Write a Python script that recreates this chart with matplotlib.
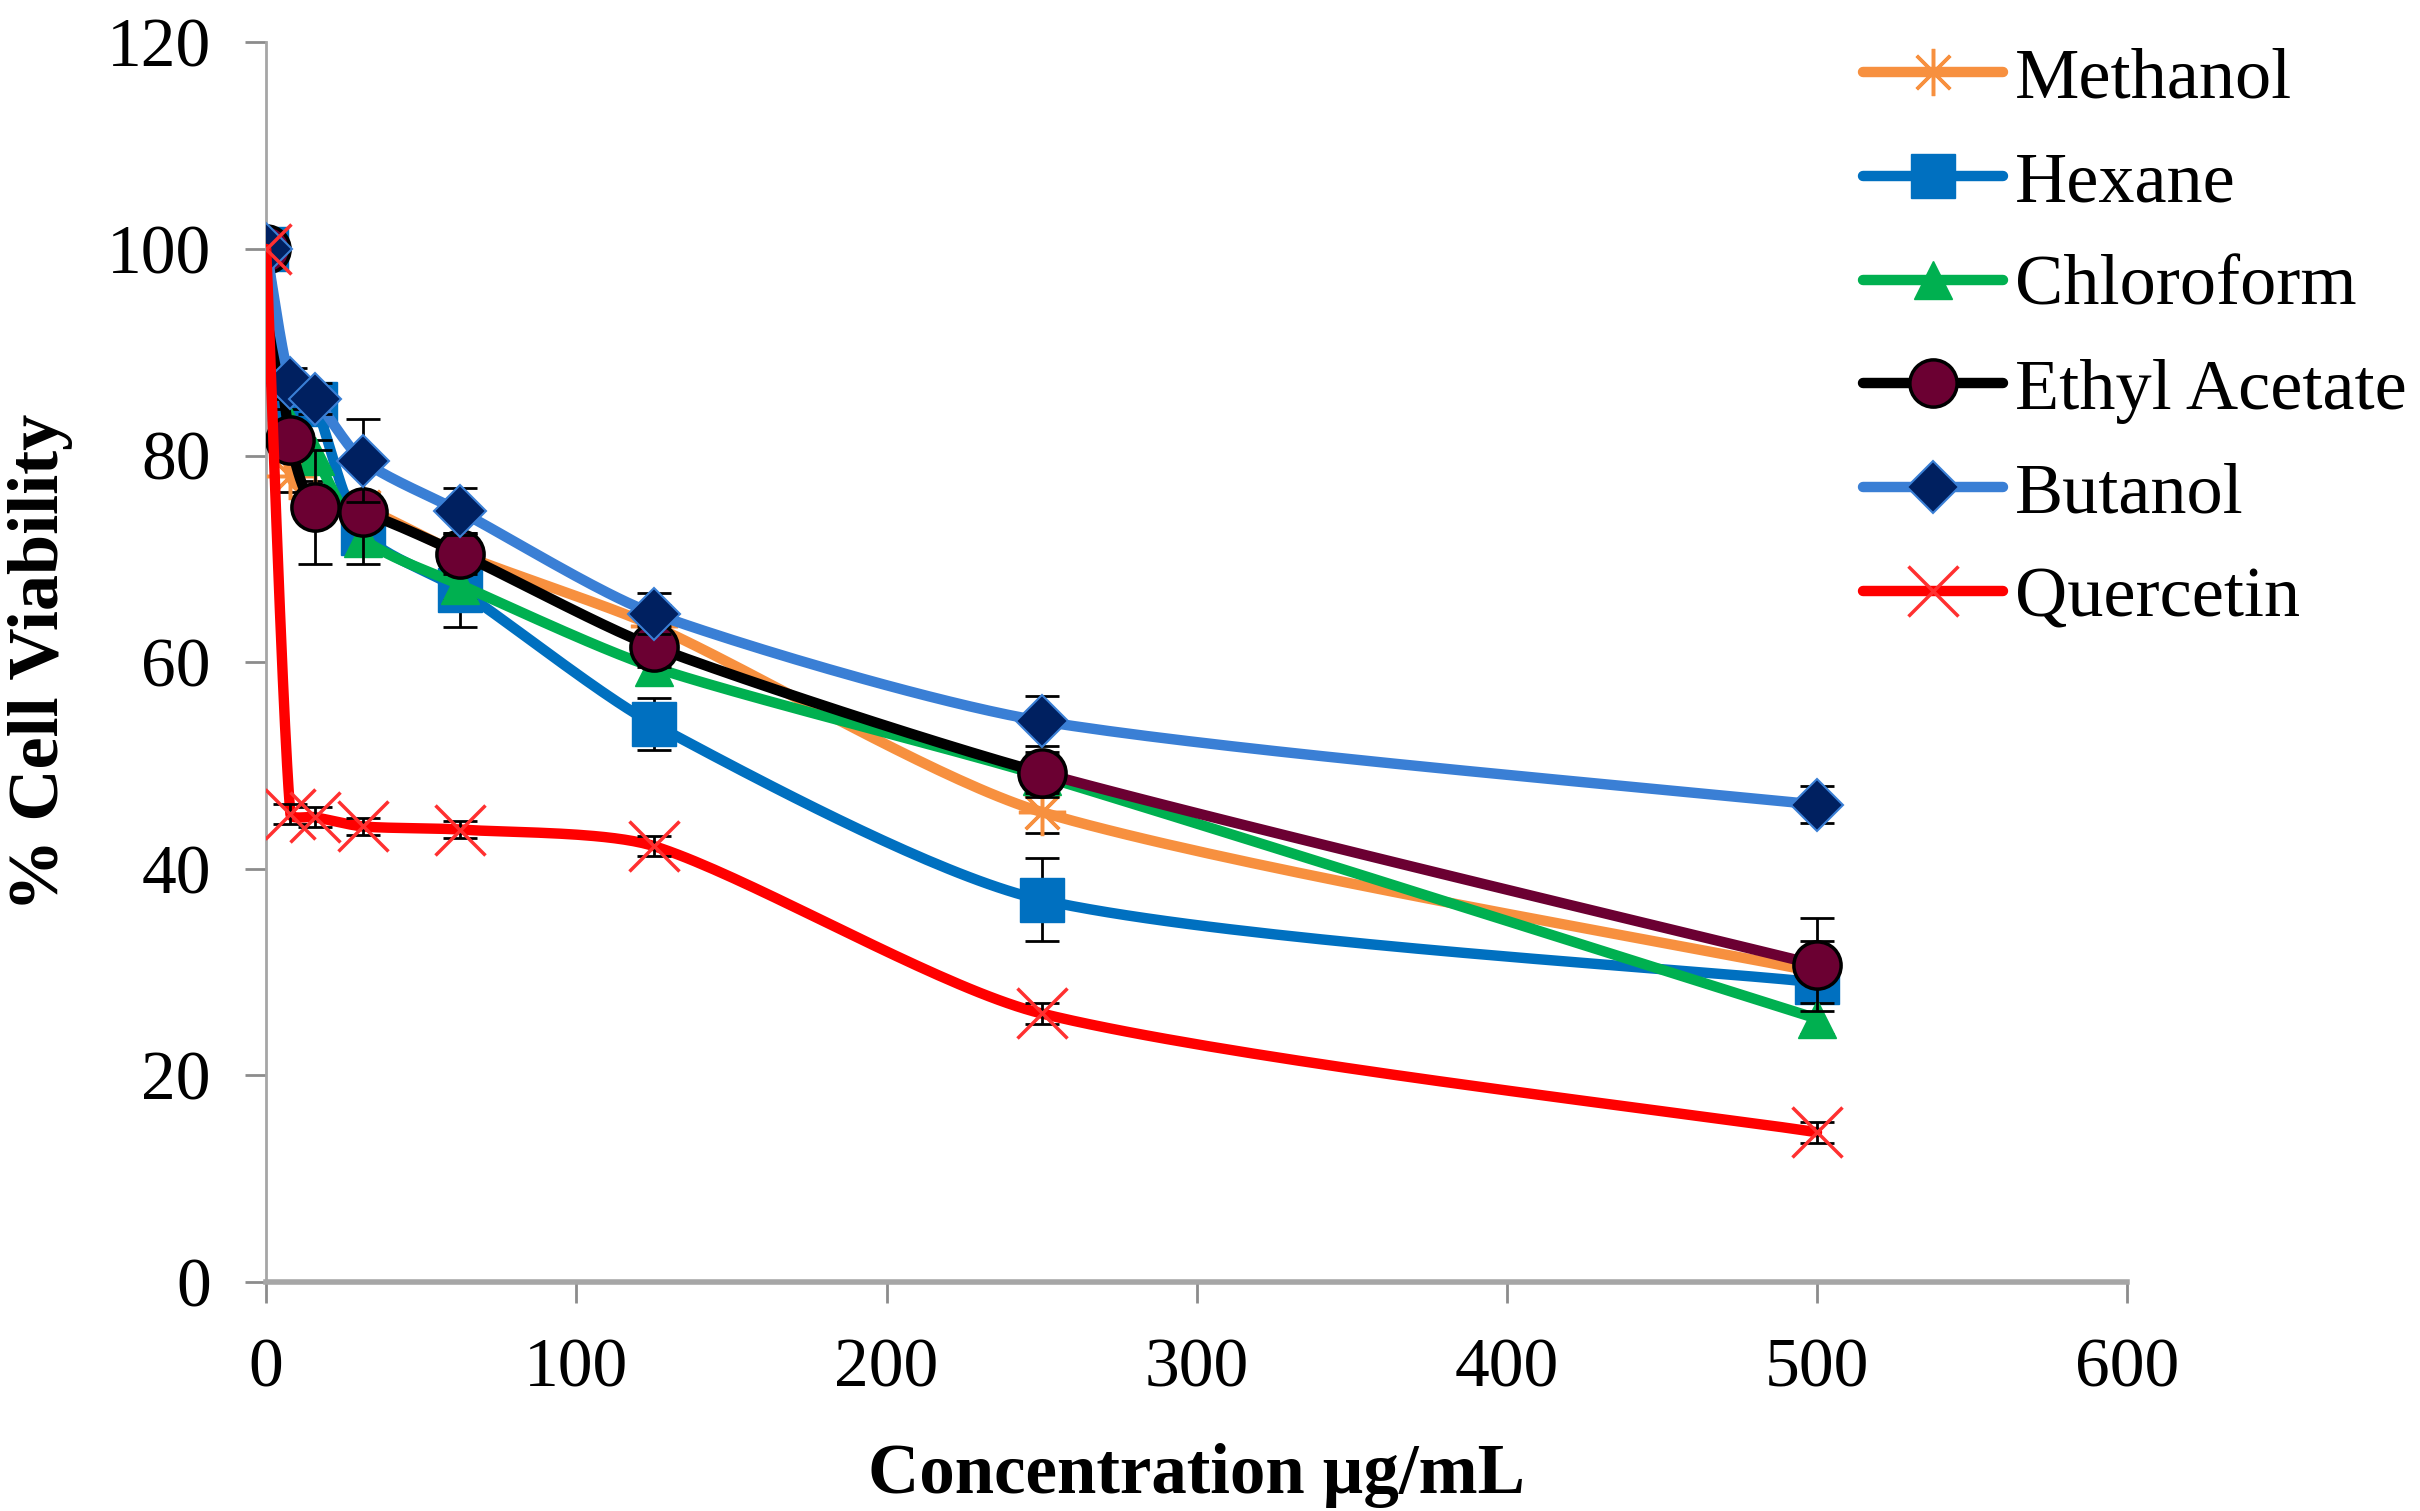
import numpy as np
import matplotlib
matplotlib.use('Agg')
import matplotlib.pyplot as plt

plt.rcParams['font.family'] = ['Liberation Serif', 'DejaVu Serif']

# data
conc = [0, 7.8, 15.6, 31.25, 62.5, 125, 250, 500]

methanol = [100, 78.0, 76.0, 75.0, 70.5, 63.5, 45.5, 30.0]
hexane = [100, 85.5, 85.0, 72.5, 67.0, 54.0, 37.0, 29.0]
chloroform = [100, 83.0, 80.0, 72.0, 67.5, 59.5, 49.0, 25.5]
ethyl = [100, 81.5, 75.0, 74.5, 70.5, 61.5, 49.3, 30.7]
butanol = [100, 87.0, 85.5, 79.5, 74.6, 64.7, 54.3, 46.2]
quercetin = [100, 45.3, 45.0, 44.1, 43.8, 42.2, 26.0, 14.5]

methanol_err = [0, 1.5, 1.5, 1.5, 2, 2, 2, 3]
hexane_err = [0, 2, 2, 1.5, 3.6, 2.5, 4, 2]
chloroform_err = [0, 1.5, 1.5, 1.5, 1.5, 1.5, 2, 1.5]
ethyl_err = [0, 1.5, 5.5, 5, 2, 2, 2, 4.5]
butanol_err = [0, 1.5, 1.5, 4, 2.3, 2, 2.4, 1.8]
quercetin_err = [0, 1, 1, 0.8, 0.8, 1, 1, 1]

labels = ['Methanol', 'Hexane', 'Chloroform', 'Ethyl Acetate', 'Butanol', 'Quercetin']

fig = plt.figure(figsize=(24.2, 15.11), dpi=100)
ax = fig.add_axes([0.110, 0.1515, 0.769, 0.8205])
ax.set_xlim(0, 600)
ax.set_ylim(0, 120)

W = 0.769 * 2420
H = 0.8205 * 1511


def smooth(x, y, n=40):
    # excel-like smoothed line, bezier with 1/6 tangents in screen space
    px = np.asarray(x, float) / 600 * W
    py = np.asarray(y, float) / 120 * H
    P = np.column_stack([px, py])
    out = [P[0]]
    for i in range(len(P) - 1):
        p0 = P[i - 1] if i > 0 else P[i]
        p1 = P[i]
        p2 = P[i + 1]
        p3 = P[i + 2] if i + 2 < len(P) else P[i + 1]
        seglen = np.hypot(*(p2 - p1))
        d1 = (p2 - p0) / 6
        d2 = (p3 - p1) / 6
        # keep control points short on tiny segments (no overshoot)
        for d in (d1, d2):
            L = np.hypot(*d)
            if L > seglen / 4:
                d *= (seglen / 4) / L
        c1 = p1 + d1
        c2 = p2 - d2
        t = np.linspace(0, 1, n)[1:, None]
        seg = ((1 - t) ** 3) * p1 + 3 * ((1 - t) ** 2) * t * c1 + 3 * (1 - t) * t ** 2 * c2 + t ** 3 * p2
        out.extend(seg)
    out = np.array(out)
    return out[:, 0] / W * 600, out[:, 1] / H * 120


lw = 7.5
series = [
    (methanol, methanol_err, '#F7903F', dict(marker=(8, 2, 0), ms=34, mec='#F7903F', mfc='#F7903F', mew=2.5)),
    (hexane, hexane_err, '#0070C0', dict(marker='s', ms=32, mec='#0070C0', mfc='#0070C0')),
    (chloroform, chloroform_err, '#00B050', dict(marker='^', ms=28, mec='#00B050', mfc='#00B050')),
    (ethyl, ethyl_err, '#000000', dict(marker='o', ms=34, mec='#000000', mfc='#6B0032', mew=2.5)),
    (butanol, butanol_err, '#3A7FD5', dict(marker='D', ms=26, mec='#3A7FD5', mfc='#002060', mew=1.5)),
    (quercetin, quercetin_err, '#FF0000', dict(marker='x', ms=36, mec='#FF3030', mfc='none', mew=2.5)),
]

handles = []
for k, (vals, err, col, mk) in enumerate(series):
    z = 3 + k
    sx, sy = smooth(conc, vals)
    if labels[k] == 'Ethyl Acetate':
        # last segment of this series is maroon in the original
        cut = np.searchsorted(sx, 250)
        ax.plot(sx[:cut + 1], sy[:cut + 1], color=col, lw=lw, zorder=z, solid_capstyle='round')
        ax.plot(sx[cut:], sy[cut:], color='#6B0032', lw=lw, zorder=z, solid_capstyle='round')
    else:
        ax.plot(sx, sy, color=col, lw=lw, zorder=z, solid_capstyle='round')
    e = np.array(err)
    m = e > 0
    ax.errorbar(np.array(conc)[m], np.array(vals)[m], yerr=e[m], fmt='none', ecolor='black',
                elinewidth=2, capsize=12, capthick=2, zorder=z + 0.5)
    ax.plot(conc, vals, ls='none', zorder=z + 0.6, **mk)
    h, = ax.plot([], [], color=col, lw=lw, solid_capstyle='round', **mk)
    handles.append(h)

ax.set_xticks(range(0, 601, 100))
ax.set_yticks(range(0, 121, 20))
ax.tick_params(axis='both', labelsize=50, colors='#8C8C8C', labelcolor='black', width=2, length=15, direction='out')
ax.tick_params(axis='x', pad=25)
ax.tick_params(axis='y', pad=25)
for s in ['top', 'right']:
    ax.spines[s].set_visible(False)
ax.spines['left'].set_color('#A6A6A6')
ax.spines['left'].set_linewidth(2)
ax.spines['bottom'].set_color('#A6A6A6')
ax.spines['bottom'].set_linewidth(4)

ax.set_xlabel('Concentration µg/mL', fontsize=51, fontweight='bold', labelpad=30)
ax.set_ylabel('% Cell Viability', fontsize=52, fontweight='bold')
ax.yaxis.set_label_coords(-0.104, 0.5)

leg = fig.legend(handles, labels, loc='upper left', bbox_to_anchor=(0.755, 0.993), frameon=False,
                 fontsize=52, handlelength=1.93, handletextpad=0.17, labelspacing=0.53,
                 borderpad=0, markerscale=1.0)

fig.savefig('out.png', dpi=100)
